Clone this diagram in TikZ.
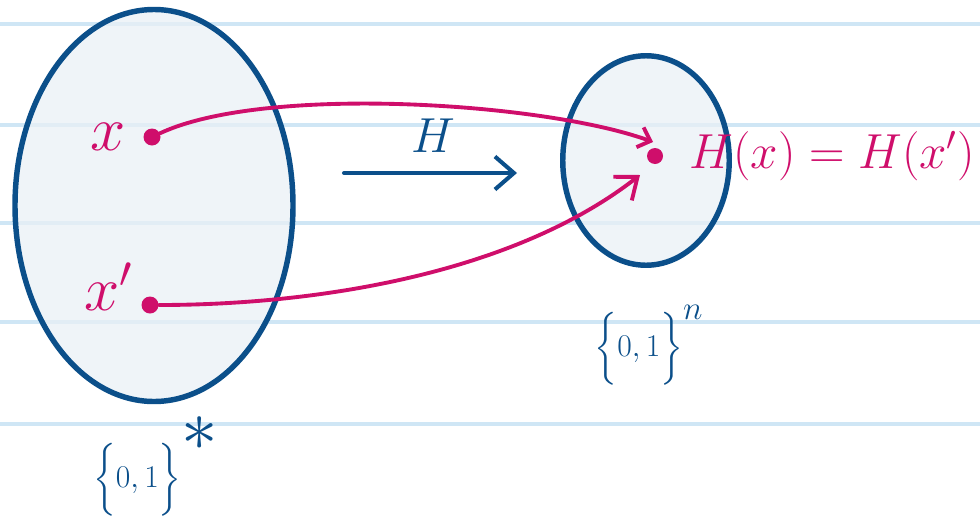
\RequirePackage{fix-cm}
\documentclass[tikz,border=0pt]{standalone}
\usepackage{amsmath}
\usetikzlibrary{arrows.meta, positioning, calc, shapes.geometric}
\definecolor{ink}{HTML}{0B4F8A}
\definecolor{pen}{HTML}{CF0E6B}
\definecolor{ruling}{HTML}{CFE6F5}
\definecolor{setfill}{HTML}{E9F0F6}

\begin{document}
\begin{tikzpicture}[
    setnode/.style={ellipse, draw=ink, line width=3.1pt, fill=setfill, fill opacity=0.75, inner sep=0pt},
    dot/.style={circle, fill=pen, inner sep=0pt, minimum size=0.34cm},
    pen arrow/.style={pen, line width=2.2pt, line cap=round},
    big/.style={inner sep=0pt, font=\fontsize{36}{40}\selectfont},
    mid/.style={inner sep=0pt, font=\fontsize{28}{32}\selectfont},
    setlab/.style={ink, inner sep=0pt, font=\fontsize{18}{22}\selectfont}]
    \useasboundingbox (0,0) rectangle (19.6,10.32);
    % ruled paper
    \foreach \y in {9.84,7.82,5.86,3.88,1.84}{ \draw[ruling, line width=2.3pt] (0,\y) -- (19.6,\y); }
    % the two sets
    \node[setnode, minimum width=5.56cm, minimum height=7.84cm] (bigset) at (3.08,6.21) {};
    \node[setnode, minimum width=3.33cm, minimum height=4.19cm] (smallset) at (12.92,7.11) {};
    \node[setlab, below=0.24cm of bigset, xshift=0.04cm] (bigname) {$\bigg\{0,1\bigg\}^{\scalebox{2.3}{$*$}}$};
    \node[setlab, below=0.74cm of smallset, xshift=0.06cm] (smallname) {$\bigg\{0,1\bigg\}^{\scalebox{1.05}{$n$}}$};
    % inputs and their common image
    \node[dot] (xdot) at (3.04,7.58) {};
    \node[dot] (xpdot) at (3.00,4.22) {};
    \node[dot, minimum size=0.32cm] (hx) at (13.10,7.20) {};
    \node[pen, big, left=0.34cm of xdot] (xlab) {$x$};
    \node[pen, big, left=0.16cm of xpdot, yshift=0.36cm] (xplab) {$x'$};
    \node[pen, mid, right=0.52cm of hx] (hxlab) {$H(x) = H(x')$};
    % the map H
    \coordinate (mapL) at (6.88,6.86);
    \coordinate (mapR) at (10.34,6.86);
    \draw[ink, line width=2.3pt, line cap=round, -{Straight Barb[length=0.38cm, width=0.66cm]}] (mapL) -- (mapR);
    \node[ink, mid] (maplab) at (8.66,7.60) {$H$};
    % collision
    \coordinate (tipA) at ($(hx)+(-0.04,0.28)$);
    \coordinate (tipB) at ($(hx)+(-0.30,-0.38)$);
    \draw[pen arrow, -{Straight Barb[length=0.22cm, width=0.42cm]}] (xdot) to[out=25, in=160, looseness=0.6] (tipA);
    \draw[pen arrow, -{Straight Barb[length=0.38cm, width=0.6cm]}] (xpdot) to[out=0, in=-142, looseness=0.82] (tipB);
\end{tikzpicture}
\end{document}
